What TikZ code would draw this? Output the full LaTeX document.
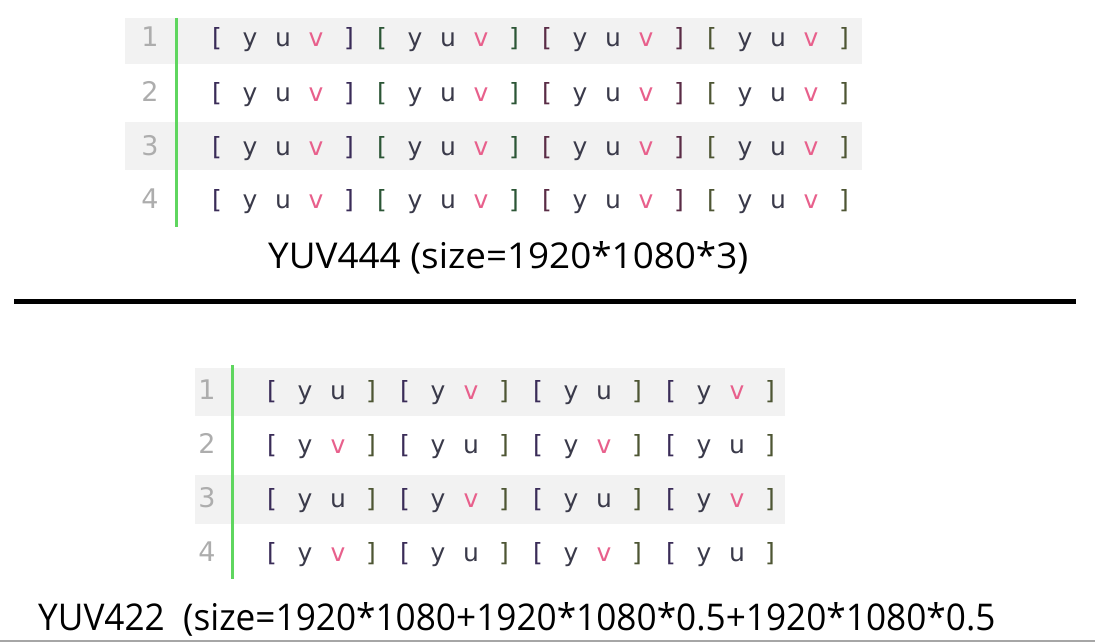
\documentclass[tikz,border=0pt]{standalone}
\usepackage{fontspec}
\setmainfont{Open Sans}
\newfontfamily\codefont{DejaVu Sans}
\usetikzlibrary{positioning}

\definecolor{codegray}{HTML}{3A3A4A}
\definecolor{vpink}{HTML}{E8608C}
\definecolor{numgray}{HTML}{ADADAD}
\definecolor{shadegray}{HTML}{F2F2F2}
\definecolor{guttergreen}{HTML}{5FD65F}
\definecolor{brpurple}{HTML}{3A2C58}
\definecolor{brgreen}{HTML}{2C5636}
\definecolor{brred}{HTML}{5A2C46}
\definecolor{brolive}{HTML}{4E5634}

\tikzset{
  code/.style={anchor=base, inner sep=0pt, text=codegray,
    font=\codefont\fontsize{25}{28}\selectfont},
  lineno/.style={anchor=base, inner sep=0pt, text=numgray,
    font=\codefont\fontsize{27}{30}\selectfont},
  caption/.style={anchor=base west, inner sep=0pt, text=black},
  rowshade/.style={fill=shadegray, draw=none},
  gutter/.style={draw=guttergreen, line width=3pt}
}

\begin{document}
\begin{tikzpicture}[x=1pt,y=-1pt]
  \useasboundingbox (0,0) rectangle (1095,642);
  \fill[white] (0,0) rectangle (1095,642);

  % top block: yuv444
  \fill[rowshade] (125,18) rectangle (862,64);
  \fill[rowshade] (125,122) rectangle (862,170);
  \draw[gutter] (176,18) -- (176,227);
  \foreach \r/\yb in {1/47,2/101,3/155,4/208} {
    \node[lineno] (tn-\r) at (150,\yb) {\r};
    \foreach \g/\bc in {0/brpurple,1/brgreen,2/brred,3/brolive} {
      \pgfmathsetmacro{\xo}{217+165*\g}
      \node[code, text=\bc] (t-\r-\g-a) at (\xo,\yb) {[};
      \node[code] (t-\r-\g-y) at (\xo+33,\yb) {y};
      \node[code] (t-\r-\g-u) at (\xo+66,\yb) {u};
      \node[code, text=vpink] (t-\r-\g-v) at (\xo+99,\yb) {v};
      \node[code, text=\bc] (t-\r-\g-b) at (\xo+132,\yb) {]};
    }
  }
  \node[caption] (cap444) at (268,268)
    {\resizebox{480pt}{27pt}{\fontsize{30}{36}\selectfont YUV444 (size=1920*1080*3)}};

  % separator
  \draw[line width=5pt, black] (14,301) -- (1076,301);

  % bottom block: yuv422
  \fill[rowshade] (195,368) rectangle (785,416);
  \fill[rowshade] (195,475) rectangle (785,524);
  \draw[gutter] (232,365) -- (232,579);
  \foreach \r/\yb in {1/399,2/453,3/507,4/561} {
    \node[lineno] (bn-\r) at (207,\yb) {\r};
    \foreach \g in {0,...,3} {
      \pgfmathsetmacro{\xo}{272+133*\g}
      \pgfmathtruncatemacro{\k}{mod(\r+\g,2)}
      \ifnum\k=1 \def\ch{u}\def\cc{codegray}\else \def\ch{v}\def\cc{vpink}\fi
      \node[code, text=brpurple] (b-\r-\g-a) at (\xo,\yb) {[};
      \node[code] (b-\r-\g-y) at (\xo+33,\yb) {y};
      \node[code, text=\cc] (b-\r-\g-c) at (\xo+66,\yb) {\ch};
      \node[code, text=brolive] (b-\r-\g-b) at (\xo+99,\yb) {]};
    }
  }
  \node[caption] (cap422) at (38,630)
    {\resizebox{957pt}{28pt}{\fontsize{30}{36}\selectfont YUV422\ \ (size=1920*1080+1920*1080*0.5+1920*1080*0.5}};

  % bottom edge
  \fill[gray!70] (0,639.5) rectangle (1095,642);
\end{tikzpicture}
\end{document}
